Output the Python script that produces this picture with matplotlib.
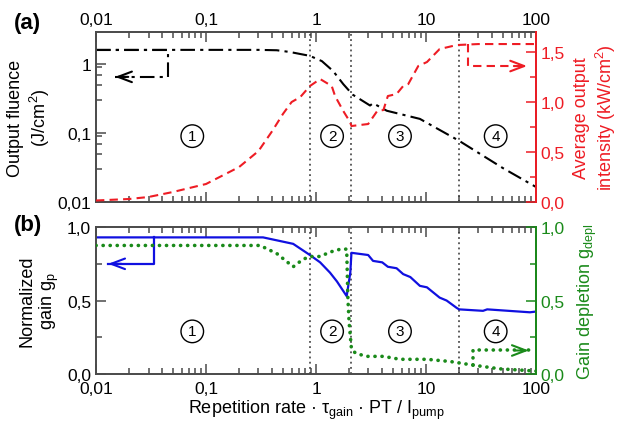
import numpy as np
import matplotlib
matplotlib.use("Agg")
import matplotlib.pyplot as plt
from matplotlib.ticker import FixedLocator, LogLocator, NullFormatter, MultipleLocator, FuncFormatter

plt.rcParams['font.family'] = ['Liberation Sans', 'DejaVu Sans']
plt.rcParams['mathtext.fontset'] = 'custom'
plt.rcParams['mathtext.rm'] = 'Liberation Sans'
plt.rcParams['mathtext.it'] = 'Liberation Sans:italic'

# ---- data -------------------------------------------------------------
# (a) output fluence (J/cm^2)
fluence_x = [0.01, 0.1, 0.3, 0.44, 0.58, 0.88, 1.13, 1.43, 1.77, 2.15, 3.1, 3.3,
             4.4, 8.8, 20, 50, 100]
fluence_y = [1.6, 1.6, 1.6, 1.58, 1.49, 1.31, 1.1, 0.79, 0.51, 0.36, 0.25, 0.27,
             0.21, 0.16, 0.077, 0.031, 0.0165]

# (a) average output intensity (kW/cm^2)
intensity_x = [0.01, 0.02, 0.03, 0.05, 0.1, 0.2, 0.3, 0.4, 0.5, 0.6, 0.72, 0.88,
               1.09, 1.39, 1.49, 1.77, 2.04, 2.1, 2.98, 3.6, 4.1, 4.5, 5.4, 6.2,
               6.9, 8.5, 10.2, 13.3, 19, 30, 100]
intensity_y = [0.015, 0.03, 0.05, 0.10, 0.18, 0.35, 0.51, 0.71, 0.88, 1.0, 1.05,
               1.16, 1.23, 1.16, 1.06, 0.91, 0.80, 0.76, 0.78, 0.91, 0.92, 1.06,
               1.08, 1.16, 1.18, 1.36, 1.40, 1.53, 1.57, 1.58, 1.58]

# (b) normalized gain g_p
gain_x = [0.01, 0.1, 0.33, 0.62, 0.88, 1.09, 1.34, 1.55, 1.9, 2.05, 2.1, 2.98,
          3.3, 4.0, 4.5, 5.4, 6.2, 7.2, 8.8, 10.2, 13.3, 15.4, 19, 20, 33, 36,
          88, 100]
gain_y = [0.93, 0.93, 0.93, 0.886, 0.81, 0.76, 0.69, 0.63, 0.53, 0.69, 0.825,
          0.81, 0.77, 0.76, 0.73, 0.72, 0.68, 0.66, 0.60, 0.59, 0.52, 0.50, 0.45,
          0.44, 0.43, 0.44, 0.42, 0.425]

# (b) gain depletion g_depl
depl_x = [0.01, 0.1, 0.31, 0.44, 0.62, 0.76, 0.88, 1.09, 1.34, 1.67, 1.9, 1.95,
          2.0, 2.1, 2.3, 2.9, 4.1, 5.8, 10.2, 16.6, 27, 47, 100]
depl_y = [0.875, 0.875, 0.875, 0.82, 0.73, 0.78, 0.80, 0.80, 0.83, 0.85, 0.85,
          0.51, 0.35, 0.17, 0.14, 0.12, 0.12, 0.10, 0.10, 0.085, 0.06, 0.035, 0.02]

# regime boundaries and region labels
boundaries = [0.88, 2.1, 20]
region_x = [0.075, 1.4, 5.8, 43]
region_labels = ['1', '2', '3', '4']

# axis-pointer arrows: (x, y) polyline vertices, last vertex is the tip
arrow_fluence = [(0.01, 1.6), (0.045, 1.6), (0.045, 0.65), (0.0149, 0.65)]
arrow_intens = [(24, 1.58), (24, 1.36), (83, 1.36)]
arrow_gain = [(0.0336, 0.93), (0.0336, 0.75), (0.0129, 0.75)]
arrow_depl = [(27, 0.06), (27, 0.16), (86, 0.16)]

# ---- styling ----------------------------------------------------------
RED = '#ee1c24'
GREEN = '#1a8a1a'
BLUE = '#1010e0'
SPINE = '#4a4a4a'
FS_TICK = 12.5
FS_LAB = 13
DASHDOT = (0, (7, 2.5, 1.5, 2.5))
DOTS = (0, (0.05, 1.9))


def comma(v, pos=None):
    return f'{v:g}'.replace('.', ',')


def fixed1(v, pos=None):
    return f'{v:.1f}'.replace('.', ',')


def style_axis(ax):
    for s in ax.spines.values():
        s.set_color(SPINE)
        s.set_linewidth(1.4)
    ax.tick_params(which='both', direction='in', colors=SPINE, labelcolor='black',
                   labelsize=FS_TICK, width=1.1)
    ax.tick_params(which='major', length=7)
    ax.tick_params(which='minor', length=4)


def draw_arrow(ax, pts, color, ls, lw, cap='butt'):
    xs = [p[0] for p in pts]
    ys = [p[1] for p in pts]
    ax.plot(xs, ys, color=color, ls=ls, lw=lw, clip_on=False,
            dash_capstyle=cap)
    tip = pts[-1]
    prev = pts[-2]
    # short solid segment carrying the open arrowhead
    fx = 10 ** (np.log10(tip[0]) + 0.12 * np.sign(np.log10(prev[0]) - np.log10(tip[0])))
    ax.annotate('', xy=tip, xytext=(fx, tip[1]),
                arrowprops=dict(arrowstyle='->,head_length=1.0,head_width=0.38',
                                color=color, lw=1.5, shrinkA=0, shrinkB=0))


fig = plt.figure(figsize=(6.28, 4.27), dpi=100)
axA = fig.add_axes([0.1529, 0.5246, 0.7006, 0.398])
axB = fig.add_axes([0.1529, 0.1218, 0.7006, 0.344])

xticks = [0.01, 0.1, 1, 10, 100]

# ---- panel (a) ----
style_axis(axA)
axA.set_xscale('log')
axA.set_yscale('log')
axA.set_xlim(0.01, 100)
axA.set_ylim(0.01, 2.9)
axA.xaxis.set_major_locator(FixedLocator(xticks))
axA.xaxis.set_major_formatter(FuncFormatter(comma))
axA.xaxis.set_minor_locator(LogLocator(base=10, subs=np.arange(2, 10)))
axA.xaxis.set_minor_formatter(NullFormatter())
axA.yaxis.set_major_locator(FixedLocator([0.01, 0.1, 1]))
axA.yaxis.set_major_formatter(FuncFormatter(comma))
axA.yaxis.set_minor_locator(LogLocator(base=10, subs=[3, 5, 7, 9]))
axA.yaxis.set_minor_formatter(NullFormatter())
axA.tick_params(axis='x', which='both', top=True, bottom=True,
                labeltop=True, labelbottom=False)
axA.tick_params(axis='y', which='both', right=False)

for b in boundaries:
    axA.axvline(b, color='#333333', ls=(0, (1.2, 2.2)), lw=1.1)

axA.plot(fluence_x, fluence_y, color='black', lw=1.5, ls=DASHDOT)
draw_arrow(axA, arrow_fluence, 'black', DASHDOT, 1.5)

axA.set_ylabel('Output fluence\n(J/cm$^2$)', fontsize=FS_LAB, labelpad=4)

axA2 = axA.twinx()
axA2.set_position(axA.get_position())
axA2.set_ylim(0, 1.7)
axA2.yaxis.set_major_locator(FixedLocator([0, 0.5, 1.0, 1.5]))
axA2.yaxis.set_minor_locator(MultipleLocator(0.25))
axA2.yaxis.set_major_formatter(FuncFormatter(fixed1))
for s in axA2.spines.values():
    s.set_visible(False)
axA2.spines['right'].set_visible(True)
axA2.spines['right'].set_color(RED)
axA2.spines['right'].set_linewidth(1.4)
axA2.tick_params(which='both', direction='in', colors=RED, labelcolor=RED,
                 labelsize=FS_TICK, width=1.1)
axA2.tick_params(which='major', length=7)
axA2.tick_params(which='minor', length=4)
axA2.plot(intensity_x, intensity_y, color=RED, lw=1.5, ls=(0, (4, 2.5)))
draw_arrow(axA2, arrow_intens, RED, (0, (4, 2.5)), 1.5)
axA2.set_ylabel('Average output\nintensity (kW/cm$^2$)', color=RED,
                fontsize=FS_LAB, labelpad=6)

for xr, t in zip(region_x, region_labels):
    axA.text(xr, 0.09, t, ha='center', va='center', fontsize=11,
             bbox=dict(boxstyle='circle,pad=0.28', fc='none', ec='black', lw=1.0))

fig.text(0.022, 0.945, '(a)', fontsize=16, fontweight='bold', va='center')

# ---- panel (b) ----
style_axis(axB)
axB.set_xscale('log')
axB.set_xlim(0.01, 100)
axB.set_ylim(0, 1.0)
axB.xaxis.set_major_locator(FixedLocator(xticks))
axB.xaxis.set_major_formatter(FuncFormatter(comma))
axB.xaxis.set_minor_locator(LogLocator(base=10, subs=np.arange(2, 10)))
axB.xaxis.set_minor_formatter(NullFormatter())
axB.yaxis.set_major_locator(FixedLocator([0, 0.5, 1.0]))
axB.yaxis.set_minor_locator(MultipleLocator(0.25))
axB.yaxis.set_major_formatter(FuncFormatter(fixed1))
axB.tick_params(axis='x', which='both', top=True, bottom=True, pad=5)
axB.tick_params(axis='y', which='both', right=False)

for b in boundaries:
    axB.axvline(b, color='#333333', ls=(0, (1.2, 2.2)), lw=1.1)

axB.plot(gain_x, gain_y, color=BLUE, lw=1.6)
draw_arrow(axB, arrow_gain, BLUE, '-', 1.6)
axB.set_ylabel('Normalized\ngain g$_\\mathregular{p}$', fontsize=FS_LAB, labelpad=4)
axB.set_xlabel('Repetition rate · τ$_\\mathregular{gain}$ · PT / I$_\\mathregular{pump}$',
               fontsize=FS_LAB, labelpad=1)

axB2 = axB.twinx()
axB2.set_position(axB.get_position())
axB2.set_ylim(0, 1.0)
axB2.yaxis.set_major_locator(FixedLocator([0, 0.5, 1.0]))
axB2.yaxis.set_minor_locator(MultipleLocator(0.25))
axB2.yaxis.set_major_formatter(FuncFormatter(fixed1))
for s in axB2.spines.values():
    s.set_visible(False)
axB2.spines['right'].set_visible(True)
axB2.spines['right'].set_color(GREEN)
axB2.spines['right'].set_linewidth(1.4)
axB2.tick_params(which='both', direction='in', colors=GREEN, labelcolor=GREEN,
                 labelsize=FS_TICK, width=1.1)
axB2.tick_params(which='major', length=7)
axB2.tick_params(which='minor', length=4)
axB2.plot(depl_x, depl_y, color=GREEN, lw=2.6, ls=DOTS, dash_capstyle='round')
draw_arrow(axB2, arrow_depl, GREEN, DOTS, 2.6, cap='round')
axB2.set_ylabel('Gain depletion g$_\\mathregular{depl}$', color=GREEN,
                fontsize=FS_LAB, labelpad=8)

for xr, t in zip(region_x, region_labels):
    axB.text(xr, 0.29, t, ha='center', va='center', fontsize=11,
             bbox=dict(boxstyle='circle,pad=0.28', fc='none', ec='black', lw=1.0))

fig.text(0.022, 0.472, '(b)', fontsize=16, fontweight='bold', va='center')

fig.savefig('out.png', dpi=100)
